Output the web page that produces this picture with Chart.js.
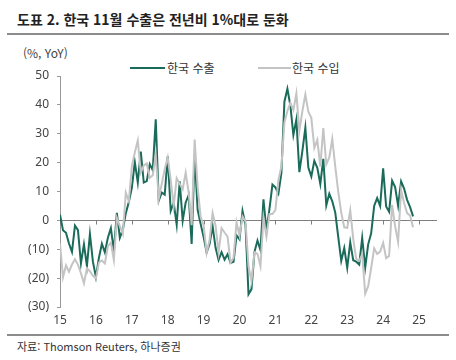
<!DOCTYPE html>
<html lang="ko">
<head>
<meta charset="utf-8">
<script src="https://cdn.jsdelivr.net/npm/chart.js@4/dist/chart.umd.min.js"></script>
<style>
  html, body { margin: 0; padding: 0; background: #fff; }
  body { width: 456px; height: 360px; position: relative; overflow: hidden;
         font-family: "Noto Sans CJK KR", "Noto Sans", sans-serif; color: #333; }
  .title { position: absolute; left: 17px; top: 9px; font-size: 14px; font-weight: bold; color: #222; white-space: nowrap; }
  .rule { position: absolute; left: 7px; width: 442px; height: 2px; background: #8c8c8c; }
  .unit { position: absolute; left: 23px; top: 44px; font-size: 12px; color: #444; }
  .legend-line { position: absolute; height: 2px; }
  .legend-text { position: absolute; top: 59px; font-size: 12px; color: #333; white-space: nowrap; }
  .source { position: absolute; left: 17px; top: 338px; font-size: 11px; color: #333; white-space: nowrap; }
  #chart-wrap { position: absolute; left: 0; top: 60px; width: 456px; height: 269px; }
</style>
</head>
<body>
<div class="title">도표 2. 한국 11월 수출은 전년비 1%대로 둔화</div>
<div class="rule" style="top:33px"></div>
<div class="unit">(%, YoY)</div>

<div class="legend-line" style="left:130px; top:67px; width:35px; background:#1b6b5b"></div>
<div class="legend-text" style="left:167px">한국 수출</div>
<div class="legend-line" style="left:258px; top:67px; width:33px; background:#c4c4c4"></div>
<div class="legend-text" style="left:292px">한국 수입</div>

<div id="chart-wrap"><canvas id="chart"></canvas></div>

<div class="rule" style="top:334px"></div>
<div class="source">자료: Thomson Reuters, 하나증권</div>

<script>
// --- DATA (monthly, Jan 2015 ~ Nov 2024, % YoY) ---
const yearLabels = ['15', '16', '17', '18', '19', '20', '21', '22', '23', '24', '25'];

const exportsYoY = [
  2.0, -3.4, -4.3, -8.0, -10.9, -1.8, -3.4, -14.9, -8.3, -15.8, -4.7, -14.3,
  -19.6, -13.0, -8.1, -11.1, -6.0, -2.7, -10.5, 2.6, -6.0, -3.2, 2.5, 6.4,
  11.2, 20.2, 13.1, 23.8, 13.1, 13.6, 19.5, 17.4, 35.0, 6.8, 9.6, 8.9,
  22.2, 3.3, 6.1, -1.5, 13.5, -0.1, 6.2, 8.7, -8.2, 22.7, 3.6, -1.2,
  -5.8, -11.1, -8.2, -2.0, -9.5, -13.7, -11.0, -13.6, -11.7, -14.7, -14.3, -5.2,
  -6.6, 3.3, -1.6, -25.6, -23.8, -10.9, -7.0, -10.3, 7.3, -3.6, 3.9, 12.4,
  11.4, 9.3, 16.4, 41.1, 45.6, 39.7, 29.6, 34.9, 16.7, 24.0, 32.1, 18.3,
  15.2, 20.6, 18.2, 12.6, 21.3, 5.2, 9.2, 6.6, 2.7, -5.8, -14.0, -9.6,
  -16.4, -7.6, -13.8, -14.3, -15.3, -6.1, -16.3, -8.3, -4.5, 5.0, 7.7, 5.0,
  18.0, 4.8, 3.0, 13.7, 11.5, 5.1, 13.5, 11.0, 7.1, 4.6, 1.4
];

const importsYoY = [
  -8.0, -19.7, -15.6, -17.8, -15.3, -13.5, -15.3, -18.3, -21.8, -16.6, -17.6, -19.2,
  -20.1, -14.6, -13.9, -14.9, -8.9, -7.7, -13.8, 0.8, -2.0, -4.7, 9.6, 6.6,
  18.6, 23.5, 27.7, 16.6, 19.0, 19.7, 14.7, 15.6, 22.6, 7.5, 12.6, 17.7,
  21.8, 14.0, 5.0, 14.6, 12.7, 10.8, 16.5, 9.7, -1.7, 28.0, 11.6, 1.2,
  -1.7, -11.3, -6.7, 2.6, -1.9, -11.1, -2.7, -4.2, -5.6, -14.6, -13.0, -0.7,
  -5.3, 1.4, -0.3, -15.9, -21.1, -11.0, -11.6, -15.9, 1.0, -5.6, 2.2, 2.2,
  3.6, 14.0, 18.7, 33.9, 37.9, 40.7, 38.2, 44.0, 31.0, 37.8, 43.6, 37.6,
  35.5, 25.1, 27.9, 18.6, 32.0, 19.4, 21.8, 28.2, 18.6, 9.9, 2.7, -2.4,
  -2.6, 3.5, -6.4, -13.3, -14.0, -11.7, -25.4, -22.8, -16.5, -9.7, -11.6, -10.8,
  -7.8, -13.1, -12.3, 5.4, -2.0, -7.5, 10.5, 6.0, 2.5, 1.7, -2.4
];

const Y_MIN = -30, Y_MAX = 50, X_MAX = 126;

// zero line with year tick marks, drawn under the series
const zeroAxis = {
  id: 'zeroAxis',
  beforeDatasetsDraw(chart) {
    const { ctx, chartArea, scales } = chart;
    const y0 = Math.round(scales.y.getPixelForValue(0)) + 0.5;
    ctx.save();
    ctx.strokeStyle = '#7f7f7f';
    ctx.lineWidth = 1;
    ctx.beginPath();
    ctx.moveTo(chartArea.left, y0);
    ctx.lineTo(chartArea.right, y0);
    yearLabels.forEach((_, k) => {
      const x = Math.round(scales.x.getPixelForValue(k * 12)) + 0.5;
      ctx.moveTo(x, y0);
      ctx.lineTo(x, y0 + 4);
    });
    ctx.stroke();
    ctx.restore();
  }
};

const toPoints = arr => arr.map((v, i) => ({ x: i, y: v }));

new Chart(document.getElementById('chart'), {
  type: 'line',
  data: {
    datasets: [
      { label: '한국 수출', data: toPoints(exportsYoY), borderColor: '#1b6b5b', borderWidth: 2, pointRadius: 0, tension: 0, order: 1 },
      { label: '한국 수입', data: toPoints(importsYoY), borderColor: '#c4c4c4', borderWidth: 2, pointRadius: 0, tension: 0, order: 0 }
    ]
  },
  options: {
    responsive: true,
    maintainAspectRatio: false,
    animation: false,
    events: [],
    layout: { padding: { top: 16, right: 19, left: 0, bottom: 0 } },
    plugins: { legend: { display: false }, tooltip: { enabled: false } },
    scales: {
      x: {
        type: 'linear',
        min: 0,
        max: X_MAX,
        grid: { display: false, drawTicks: false },
        border: { display: false },
        ticks: {
          stepSize: 12,
          includeBounds: false,
          autoSkip: false,
          maxRotation: 0,
          padding: 6,
          color: '#444',
          font: { family: "'Noto Sans', sans-serif", size: 12 },
          callback: v => yearLabels[v / 12] ?? ''
        },
        afterFit: s => { s.height = 22; }
      },
      y: {
        min: Y_MIN,
        max: Y_MAX,
        grid: { drawOnChartArea: false, drawTicks: true, tickLength: 3, color: '#999' },
        border: { display: true, color: '#999', width: 1 },
        ticks: {
          stepSize: 10,
          padding: 8,
          color: '#444',
          font: { family: "'Noto Sans', sans-serif", size: 12 },
          callback: v => v < 0 ? '(' + (-v) + ')' : String(v)
        },
        afterFit: s => { s.width = 60; }
      }
    }
  },
  plugins: [zeroAxis]
});
</script>
</body>
</html>
